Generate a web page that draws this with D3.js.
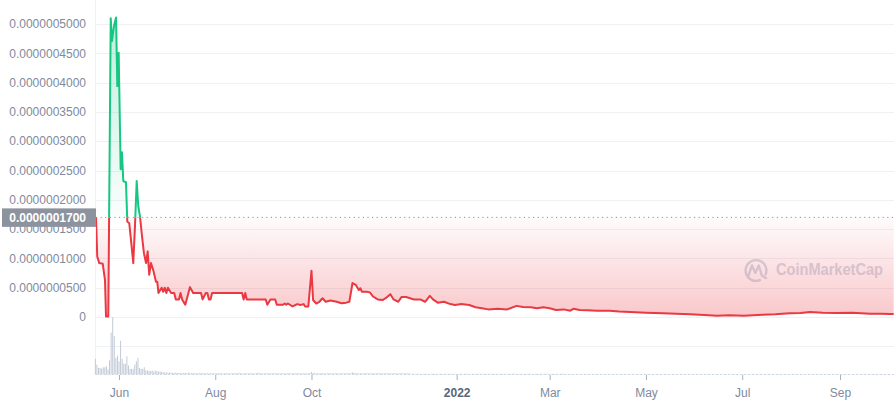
<!DOCTYPE html>
<html><head><meta charset="utf-8">
<script src="https://cdn.jsdelivr.net/npm/d3@7"></script>
<style>body{margin:0;background:#fff;}svg{display:block;font-family:"Liberation Sans",Arial,sans-serif;}</style>
</head><body><svg id="c" width="894" height="400"></svg>
<script>
const priceDates = ["2021-05-17 10:00","2021-05-18 05:00","2021-05-19 12:00","2021-05-21 16:00","2021-05-23 03:00","2021-05-23 18:00","2021-05-25 05:00","2021-05-26 18:00","2021-05-27 13:00","2021-05-28 20:00","2021-05-30 03:00","2021-05-30 22:00","2021-05-31 19:00","2021-06-01 04:00","2021-06-02 01:00","2021-06-02 21:00","2021-06-03 17:00","2021-06-05 10:00","2021-06-06 06:00","2021-06-07 12:00","2021-06-08 19:00","2021-06-10 01:00","2021-06-11 03:00","2021-06-12 05:00","2021-06-13 05:00","2021-06-14 07:00","2021-06-15 09:00","2021-06-16 19:00","2021-06-18 03:00","2021-06-19 04:00","2021-06-20 03:00","2021-06-21 06:00","2021-06-22 17:00","2021-06-24 10:00","2021-06-25 06:00",
"2021-06-26","2021-06-28","2021-06-29","2021-06-30","2021-07-01","2021-07-02","2021-07-04","2021-07-06","2021-07-07","2021-07-09","2021-07-10","2021-07-11","2021-07-13","2021-07-15","2021-07-16","2021-07-18","2021-07-23","2021-07-24","2021-07-26","2021-07-27","2021-07-28","2021-07-29","2021-07-30","2021-08-18","2021-08-19","2021-08-20","2021-08-21","2021-09-02","2021-09-03","2021-09-05","2021-09-08","2021-09-09","2021-09-13","2021-09-14","2021-09-15","2021-09-16","2021-09-19","2021-09-22","2021-09-24","2021-09-26","2021-09-27","2021-09-29","2021-10-01","2021-10-02","2021-10-04","2021-10-06","2021-10-08","2021-10-10","2021-10-13","2021-10-17","2021-10-20","2021-10-23","2021-10-25","2021-10-27","2021-10-29","2021-10-31","2021-11-01","2021-11-02","2021-11-05","2021-11-07","2021-11-09","2021-11-12","2021-11-15","2021-11-17","2021-11-20","2021-11-22","2021-11-25","2021-11-27","2021-11-30","2021-12-05","2021-12-09","2021-12-12","2021-12-15","2021-12-17","2021-12-20","2021-12-24","2021-12-28","2021-12-31","2022-01-04","2022-01-09","2022-01-13","2022-01-17","2022-01-21","2022-01-27","2022-02-02","2022-02-08","2022-02-12","2022-02-17","2022-02-21","2022-02-25","2022-03-01","2022-03-05","2022-03-10","2022-03-14","2022-03-16","2022-03-20","2022-03-25","2022-03-31","2022-04-08","2022-04-14","2022-04-21","2022-05-01","2022-05-12","2022-05-20","2022-05-29","2022-06-07","2022-06-15","2022-06-23","2022-07-02","2022-07-14","2022-07-22","2022-07-31","2022-08-07","2022-08-13","2022-08-21","2022-08-30","2022-09-09","2022-09-20","2022-09-27","2022-10-03","2022-10-05"];
const priceValues = [1.70e-7,1.03e-7,0.92e-7,0.91e-7,0.63e-7,0.01e-7,0.01e-7,5.10e-7,4.71e-7,4.97e-7,5.11e-7,3.94e-7,4.51e-7,3.92e-7,2.52e-7,2.81e-7,2.32e-7,2.30e-7,1.63e-7,1.60e-7,1.26e-7,0.92e-7,1.55e-7,2.32e-7,1.89e-7,1.72e-7,1.43e-7,1.09e-7,0.92e-7,1.12e-7,0.72e-7,0.92e-7,0.80e-7,0.60e-7,0.60e-7,
0.41e-7,0.50e-7,0.43e-7,0.50e-7,0.41e-7,0.50e-7,0.41e-7,0.41e-7,0.30e-7,0.30e-7,0.41e-7,0.30e-7,0.21e-7,0.41e-7,0.51e-7,0.41e-7,0.41e-7,0.30e-7,0.41e-7,0.41e-7,0.30e-7,0.30e-7,0.41e-7,0.41e-7,0.30e-7,0.41e-7,0.30e-7,0.30e-7,0.21e-7,0.30e-7,0.30e-7,0.21e-7,0.21e-7,0.23e-7,0.21e-7,0.23e-7,0.18e-7,0.22e-7,0.205e-7,0.22e-7,0.18e-7,0.18e-7,0.79e-7,0.29e-7,0.23e-7,0.26e-7,0.32e-7,0.26e-7,0.28e-7,0.26e-7,0.235e-7,0.245e-7,0.26e-7,0.58e-7,0.55e-7,0.46e-7,0.49e-7,0.43e-7,0.43e-7,0.42e-7,0.35e-7,0.30e-7,0.29e-7,0.32e-7,0.39e-7,0.30e-7,0.26e-7,0.34e-7,0.34e-7,0.30e-7,0.30e-7,0.26e-7,0.36e-7,0.30e-7,0.245e-7,0.26e-7,0.22e-7,0.205e-7,0.22e-7,0.205e-7,0.166e-7,0.15e-7,0.13e-7,0.14e-7,0.13e-7,0.19e-7,0.17e-7,0.166e-7,0.15e-7,0.166e-7,0.15e-7,0.12e-7,0.13e-7,0.108e-7,0.14e-7,0.12e-7,0.115e-7,0.108e-7,0.108e-7,0.095e-7,0.086e-7,0.074e-7,0.063e-7,0.055e-7,0.046e-7,0.035e-7,0.022e-7,0.029e-7,0.022e-7,0.039e-7,0.045e-7,0.063e-7,0.07e-7,0.086e-7,0.074e-7,0.07e-7,0.074e-7,0.057e-7,0.055e-7,0.051e-7,0.05e-7];
const baselineValue = 0.00000017;
const baselineLabel = "0.0000001700";
const volumeStart = "2021-05-17";
const volumeValues = [
15.7,10,6.7,6.7,6,7.3,7.3,8.3,5,14.3,
42.3,57.7,39,16.7,19,13.3,34,15.7,11,11,
18.3,9,5.7,5.7,5.7,10,13.3,16.7,6.7,5.7,
5.7,7.3,4.3,4,4,3.3,4,3,4,3.3,
3,3,2.7,2.3,2,2.2,1.8,2,1.7,1.8,
1.6,2,1.5,1.6,1.5,1.4,1.7,1.5,1.4,2,
1.3,1.4,1.3,1.2,1.3,1.4,1.2,1.3,1.2,1.5,
1.2,1.3,1.1,1.2,1.3,1.2,1.2,1.1,1.3,1.2,
1.2,1.1,1.2,1.3,1.1,1.2,1.2,1.1,1.2,1.3,
1.2,1.8,1.2,1.1,1.2,1.2,1.3,1.1,1.2,1.2,
1.2,1.1,1.3,2,1.2,1.2,1.1,1.2,1.3,1.2,
1.1,1.2,1.2,1.1,1.3,1.2,1.2,1.1,1.2,1.2,
1.1,1.2,1.3,1.2,1.1,1.2,1.2,1.1,1.2,1.3,
1.2,1.2,1.1,1.2,1.2,1.3,1.4,2.5,1.6,1.3,
1.2,1.2,1.1,1.2,1.3,1.2,1.2,1.1,1.2,1.2,
1.1,1.2,1.3,1.2,1.2,1.1,1.2,1.2,1.1,1.2,
1.3,1.2,1.4,2.1,1.6,1.4,1.3,1.2,1.2,1.1,
1.2,1.2,1.3,1.2,1.1,1.2,1.2,1.1,1.2,1.2,
1.3,1.2,1.1,1.2,1.2,1.1,1.2,1.2,1.1,1.2,
1.3,1.2,1.1,1.2,1.2,1.1,1.2,1.2,1.1,1.2,
0.7,0.8,0.7,0.6,0.7,0.8,0.7,0.7,0.6,0.7,
0.8,0.7,0.6,0.7,0.7,0.8,0.7,0.6,0.7,0.7,
0.6,0.7,0.8,0.7,0.7,0.6,0.7,0.7,0.8,0.7,
0.6,0.7,0.7,0.6,0.7,0.8,0.7,0.6,0.7,0.7,
0.7,0.6,0.7,0.8,0.7,0.6,0.7,0.7,0.6,0.7,
0.7,0.8,0.7,0.6,0.7,0.7,0.6,0.7,0.8,0.7,
0.6,0.7,0.7,0.6,0.7,0.9,0.7,0.6,0.7,0.7,
0.6,0.7,0.7,0.6,0.7,0.8,0.7,0.6,0.7,0.7,
0.7,0.6,0.7,0.7,0.6,0.7,0.8,0.7,0.6,0.7,
0.7,0.6,0.7,0.7,0.6,0.7,0.8,0.7,0.6,0.7,
0.4,0.5,0.6,0.5,0.4,0.5,0.5,0.4,0.5,0.5,
0.4,0.5,0.5,0.4,0.5,0.5,0.4,0.5,0.6,0.4,
0.5,0.4,0.5,0.5,0.4,0.5,0.4,0.5,0.5,0.4,
0.5,0.4,0.5,0.5,0.4,0.5,0.4,0.5,0.5,0.4,
0.4,0.5,0.4,0.5,0.5,0.4,0.5,0.4,0.4,0.5,
0.4,0.5,0.4,0.5,0.4,0.4,0.5,0.4,0.5,0.4,
0.4,0.5,0.4,0.4,0.5,0.4,0.5,0.4,0.4,0.5,
0.4,0.4,0.5,0.4,0.5,0.4,0.4,0.5,0.4,0.4,
0.5,0.4,0.4,0.5,0.4,0.4,0.5,0.4,0.5,0.4,
0.4,0.5,0.4,0.4,0.5,0.4,0.4,0.5,0.4,0.4,
0.5,0.4,0.4,0.5,0.4,0.5,0.4,0.4,0.5,0.4,
0.4,0.5,0.4,0.4,0.5,0.4,0.4,0.5,0.4,0.5,
0.4,0.4,0.5,0.4,0.4,0.5,0.4,0.5,0.4,0.4,
0.5,0.4,0.4,0.5,0.4,0.4,0.5,0.4,0.5,0.4,
0.4,0.5,0.4,0.4,0.5,0.4,0.4,0.5,0.4,0.4,
0.5,0.4,0.5,0.4,0.4,0.5,0.4,0.4,0.5,0.4,
0.4,0.5,0.4,0.4,0.5,0.4,0.5,0.4,0.4,0.5,
0.4,0.4,0.5,0.4,0.4,0.5,0.4,0.4,0.5,0.4,
0.5,0.4,0.4,0.5,0.4,0.4,0.5,0.4,0.5,0.4,
0.4,0.5,0.4,0.4,0.5,0.4,0.4,0.5,0.4,0.4,
0.5,0.4,0.4,0.5,0.4];
const yTickValues = [0,0.00000005,0.0000001,0.00000015,0.0000002,0.00000025,0.0000003,0.00000035,0.0000004,0.00000045,0.0000005];
const yTickLabels = ["0","0.0000000500","0.0000001000","0.0000001500","0.0000002000","0.0000002500","0.0000003000","0.0000003500","0.0000004000","0.0000004500","0.0000005000"];
const xTickDates = ["2021-06-01","2021-08-01","2021-10-01","2022-01-01","2022-03-01","2022-05-01","2022-07-01","2022-09-01"];
const xTickLabels = ["Jun","Aug","Oct","2022","Mar","May","Jul","Sep"];
const xDomain = ["2021-05-17 10:00","2022-10-05 05:00"];

const FONT = "'Liberation Sans',Arial,sans-serif";
const pFull = d3.timeParse("%Y-%m-%d %H:%M"), pDay = d3.timeParse("%Y-%m-%d");
const parse = s => pFull(s) || pDay(s);
const left = 96, right = 894;
const x = d3.scaleTime().domain(xDomain.map(parse)).range([left, right]);
const y = d3.scaleLinear().domain([0, 0.0000005]).range([317, 24]);
const yv = d3.scaleLinear().domain([0, 57.7]).range([374.5, 317.3]);
const price = priceDates.map((d, i) => ({date: parse(d), v: priceValues[i]}));
const v0 = parse(volumeStart);
const vol = volumeValues.map((v, i) => ({date: d3.timeDay.offset(v0, i), v}));
const yB = y(baselineValue);

const svg = d3.select("#c");
const defs = svg.append("defs");
const gG = defs.append("linearGradient").attr("id","gG").attr("gradientUnits","userSpaceOnUse").attr("x1",0).attr("x2",0).attr("y1",y(5.11e-7)).attr("y2",yB);
gG.append("stop").attr("offset",0).attr("stop-color","#16c784").attr("stop-opacity",0.28);
gG.append("stop").attr("offset",1).attr("stop-color","#16c784").attr("stop-opacity",0.02);
const gR = defs.append("linearGradient").attr("id","gR").attr("gradientUnits","userSpaceOnUse").attr("x1",0).attr("x2",0).attr("y1",yB).attr("y2",y(0));
gR.append("stop").attr("offset",0).attr("stop-color","#ea3943").attr("stop-opacity",0.02);
gR.append("stop").attr("offset",1).attr("stop-color","#ea3943").attr("stop-opacity",0.28);
defs.append("clipPath").attr("id","cA").append("rect").attr("x",left).attr("y",0).attr("width",right-left).attr("height",yB);
defs.append("clipPath").attr("id","cB").append("rect").attr("x",left).attr("y",yB).attr("width",right-left).attr("height",400-yB);

// grid
svg.append("g").selectAll("line").data(yTickValues).join("line")
  .attr("x1",left).attr("x2",right).attr("y1",d=>Math.round(y(d))+0.5).attr("y2",d=>Math.round(y(d))+0.5)
  .attr("stroke","#eff2f5");
svg.append("line").attr("x1",left).attr("x2",right).attr("y1",Math.round(yv(28.85))+0.5).attr("y2",Math.round(yv(28.85))+0.5).attr("stroke","#eff2f5");
svg.append("line").attr("x1",left-0.5).attr("x2",left-0.5).attr("y1",0).attr("y2",375).attr("stroke","#eff2f5");

// watermark
const wm = svg.append("g").attr("fill","#d3dae6").attr("stroke","#d3dae6");
const ring = d3.arc().innerRadius(9.2).outerRadius(11.6).startAngle(2.65).endAngle(2.05 + 2*Math.PI);
wm.append("path").attr("d", ring()).attr("transform","translate(756,270.5)").attr("stroke","none");
wm.append("polyline").attr("points","748.5,275.5 752,265.5 755.3,273 758.8,265.5 761.8,275.5 766,278").attr("fill","none").attr("stroke-width",2.4).attr("stroke-linejoin","round").attr("stroke-linecap","round");
wm.append("text").attr("x",776).attr("y",274.5).attr("stroke","none").attr("font-family",FONT).attr("font-size",16).attr("font-weight",700)
  .attr("textLength",107).attr("lengthAdjust","spacingAndGlyphs").text("CoinMarketCap");

// volume bars
svg.append("g").selectAll("rect").data(vol).join("rect")
  .attr("x", d => x(d.date) - 0.5).attr("width", 1)
  .attr("y", d => yv(d.v)).attr("height", d => yv(0) - yv(d.v))
  .attr("fill", "#c3cad6");

// areas and lines
const area = d3.area().x(d=>x(d.date)).y0(yB).y1(d=>y(d.v));
const line = d3.line().x(d=>x(d.date)).y(d=>y(d.v));
svg.append("path").datum(price).attr("d",area).attr("fill","url(#gG)").attr("clip-path","url(#cA)");
svg.append("path").datum(price).attr("d",area).attr("fill","url(#gR)").attr("clip-path","url(#cB)");

svg.append("line").attr("x1",left).attr("x2",right).attr("y1",yB).attr("y2",yB)
  .attr("stroke","#8d939e").attr("stroke-width",1).attr("stroke-dasharray","1.2,3.4");

svg.append("path").datum(price).attr("d",line).attr("fill","none").attr("stroke","#16c784").attr("stroke-width",2).attr("stroke-linejoin","round").attr("clip-path","url(#cA)");
svg.append("path").datum(price).attr("d",line).attr("fill","none").attr("stroke","#ea3943").attr("stroke-width",2).attr("stroke-linejoin","round").attr("clip-path","url(#cB)");

// y labels
svg.append("g").selectAll("text").data(yTickValues).join("text")
  .attr("x",86).attr("y",d=>y(d)).attr("dy","0.35em").attr("text-anchor","end")
  .attr("font-family",FONT).attr("font-size",12).attr("fill","#808a9d").text((d,i)=>yTickLabels[i]);

// baseline label box
svg.append("rect").attr("x",2).attr("y",yB-9).attr("width",left-2).attr("height",18.5).attr("fill","#8d939e");
svg.append("text").attr("x",86).attr("y",yB).attr("dy","0.35em").attr("text-anchor","end")
  .attr("font-family",FONT).attr("font-size",12).attr("font-weight",700).attr("fill","#ffffff").text(baselineLabel);

// x axis
svg.append("line").attr("x1",left).attr("x2",right).attr("y1",374.5).attr("y2",374.5).attr("stroke","#cfd6e4").attr("stroke-dasharray","2,2");
const xt = xTickDates.map(parse);
const ax = svg.append("g").attr("transform","translate(0,375)").call(d3.axisBottom(x).tickValues(xt).tickSize(5).tickSizeOuter(0).tickPadding(8).tickFormat((d,i)=>xTickLabels[i]));
ax.select(".domain").remove();
ax.selectAll(".tick line").attr("stroke","#a6b0c3");
ax.selectAll(".tick text").attr("font-size",12).attr("font-family",FONT)
  .attr("font-weight",(d,i)=>xTickLabels[i]==="2022"?700:400).attr("fill",(d,i)=>xTickLabels[i]==="2022"?"#58667e":"#808a9d");
</script></body></html>
